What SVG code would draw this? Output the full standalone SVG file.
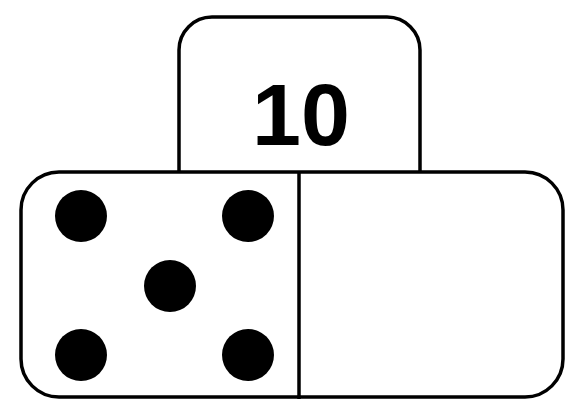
<svg xmlns="http://www.w3.org/2000/svg" width="565" height="399" viewBox="0 0 565 399">
<style>
.ln{fill:#fff;stroke:#000;stroke-width:3.5}
.pip{fill:#000}
.lbl{font-family:"Liberation Sans",Arial,sans-serif;font-weight:bold;font-size:88px;fill:#000}
</style>
<rect width="565" height="399" fill="#fff"/>
<g id="label-box">
<path class="ln" d="M179,172 V50 A33,33 0 0 1 212,17 H387 A33,33 0 0 1 420,50 V172"/>
<text class="lbl" x="301" y="145" text-anchor="middle">10</text>
</g>
<g id="domino">
<rect class="ln" x="21" y="172" width="542" height="225" rx="38" ry="38"/>
<line x1="299" y1="172" x2="299" y2="399" stroke="#000" stroke-width="3.5"/>
<circle class="pip" cx="81" cy="216" r="26"/>
<circle class="pip" cx="248" cy="216" r="26"/>
<circle class="pip" cx="170" cy="286" r="26"/>
<circle class="pip" cx="81" cy="355" r="26"/>
<circle class="pip" cx="248" cy="355" r="26"/>
</g>
</svg>
